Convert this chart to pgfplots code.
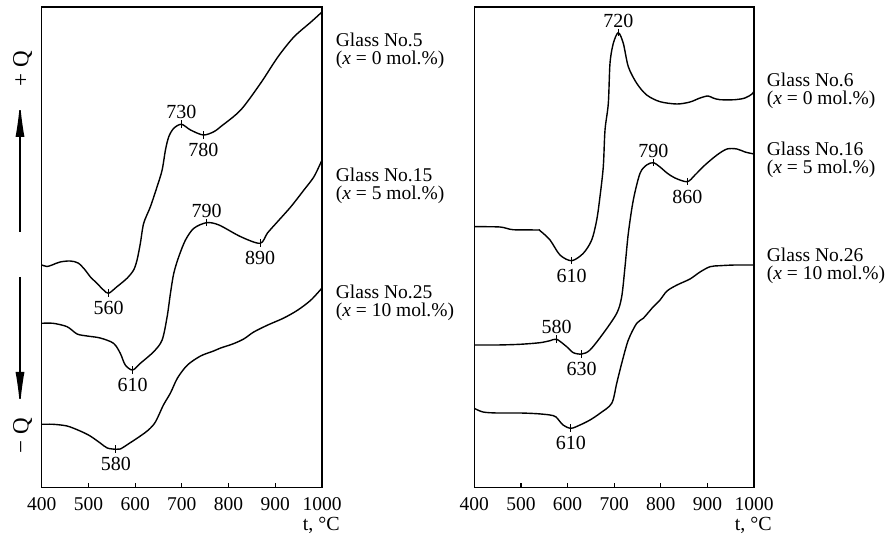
\documentclass[border=0pt]{standalone}
\usepackage{fontspec}
\setmainfont{Liberation Serif}
\usepackage{pgfplots}
\pgfplotsset{compat=1.18}
\usetikzlibrary{arrows.meta}

\pgfplotsset{
  dta/.style={
    scale only axis, width=280.3bp, height=480.7bp,
    xmin=400, xmax=1000, ymin=12.3, ymax=493,
    xtick={400,500,...,1000}, ytick=\empty,
    xtick pos=left, tick align=inside, major tick length=5bp,
    axis line style={line width=1.5bp},
    every tick/.style={line width=1.2bp, black},
    /pgf/number format/assume math mode=true,
    /pgf/number format/1000 sep={},
    ticklabel style={font=\fontsize{19.5bp}{22bp}\selectfont},
    x tick label style={yshift=-3bp},
    clip=false, anchor=south west,
  },
  curve/.style={black, line width=1.4bp, smooth, tension=0.5, mark=none},
  pk/.style={black, only marks, mark=|, mark size=3.8bp, mark options={line width=1bp}},
}
\tikzset{
  lbl below/.style={anchor=north, yshift=-8bp, inner sep=0pt},
  lbl above/.style={anchor=south, yshift=5bp, inner sep=0pt},
}

\begin{document}
\fontsize{20bp}{24bp}\selectfont
\begin{tikzpicture}
\path[use as bounding box] (-41.7bp,-51.3bp) rectangle (845.3bp,487.7bp);

% ---------------- left panel ----------------
\begin{axis}[dta, at={(0bp,0bp)}]
% Glass No.5
\addplot[curve] coordinates {
(400,235) (411.4,233.5) (422.1,235) (439.3,238) (460.8,239) (478,237)
(493,230) (503.8,223.3) (518.2,216.7) (532.3,210) (543.1,206.7)
(561.1,213.3) (582.6,221.7) (596.8,230) (604.1,240) (611.2,256.7)
(618.3,276.7) (632.7,293.3) (647,313.3) (657.8,330) (664.9,350)
(672,363.3) (682.7,371.7) (699.2,375.7) (718.6,370) (745.9,365)
(768.6,368.3) (783,373.3) (826,390) (868.9,417) (905.5,443)
(939.8,463) (976.4,478) (1000,488)};
% Glass No.15
\addplot[curve] coordinates {
(400,176.7) (424.3,176.7) (454.3,173.3) (475.8,166) (497.3,164)
(525.2,162) (553.8,156.7) (568.2,146.7) (578.9,135) (594.6,130)
(611.2,136.7) (639.7,148.3) (657.8,160) (668.5,183.3) (675.6,206.7)
(682.7,226.7) (693.4,243.3) (707.8,260) (725.7,271.7) (752.9,277.3)
(779.4,275) (826,263.3) (867.4,256.7) (883.3,267) (904.8,278.3)
(933.4,293.3) (961.3,310) (982.8,323.3) (1000,340)};
% Glass No.25
\addplot[curve] coordinates {
(400,75.7) (424.3,75.7) (454.3,74) (482.3,69) (503.8,64) (525.2,57)
(540.3,52) (559,50.7) (568.2,51) (585.4,56) (611.2,64) (628.4,70)
(643.4,78) (660.6,95) (675.6,107) (690.7,122) (712.1,135) (740.1,144)
(768,149) (783,152) (808.8,156) (832.4,161) (853.9,168) (884,175)
(918.3,182) (948.4,190) (976.4,200) (1000,212)};
% extrema marks
\addplot[pk] coordinates {(543.1,206.7) (699.2,375.7) (745.9,365)
  (752.9,277.3) (867.4,256.7) (594.6,130) (559,50.7)};
\node[lbl below] at (axis cs:543.1,206.7) {560};
\node[lbl above] at (axis cs:699.2,375.7) {730};
\node[lbl below] at (axis cs:745.9,365) {780};
\node[lbl above] at (axis cs:752.9,277.3) {790};
\node[lbl below] at (axis cs:867.4,256.7) {890};
\node[lbl below] at (axis cs:594.6,130) {610};
\node[lbl below] at (axis cs:559,50.7) {580};
\end{axis}

% ---------------- right panel ----------------
\begin{axis}[dta, at={(432.6bp,0bp)}, width=279.7bp]
% Glass No.6
\addplot[curve] coordinates {
(400,273.3) (455.1,273) (483,270.3) (534.5,270) (540.9,269.3)
(562.4,260) (583.8,245) (608.9,239.3) (633.8,246.7) (651.8,260)
(662.6,280) (669.6,303.3) (676.7,333.3) (680.4,370) (687.5,396.7)
(691.1,436.7) (698.2,456.7) (708.9,467.3) (719.6,456.7) (730.4,433.3)
(748.4,416.7) (769.8,405) (798.4,398.3) (834.8,396) (862.7,398)
(884.2,402) (901.3,404) (912.1,402) (927.1,400.3) (959.3,400.3)
(980.7,402) (995.8,406) (1000,409)};
% Glass No.16
\addplot[curve] coordinates {
(400,155) (448.7,155) (498,155.7) (540.9,157.3) (562.4,159.3)
(576.8,160.7) (598.2,153.3) (612.4,147.3) (630.4,146) (648.2,150)
(676.7,166.7) (705.5,186.7) (716.2,203.3) (723.3,233.3) (730.4,266.7)
(741.1,300) (755.5,326.7) (769.8,335) (784,337.3) (798.4,333)
(813.4,327) (830.5,322) (856.9,318.3) (873.4,325) (894.9,335)
(920.6,345) (942.1,351) (963.5,351) (980.7,348) (1000,346)};
% Glass No.26
\addplot[curve] coordinates {
(400,91.7) (418.7,88) (448.7,87) (498,87) (534.5,86.3) (562.4,85)
(575.3,83) (590.3,75) (607.4,71.7) (626.7,75) (648.2,80) (669.6,86.7)
(694.8,96.7) (705.5,116.7) (716.2,136.7) (730.4,160) (748.4,176.7)
(762.5,181.7) (784,193.3) (798.4,200) (813.4,209) (834.8,215)
(862.7,221) (884.2,228) (905.7,233.3) (927.1,234.3) (959.3,235) (1000,235)};
\addplot[pk] coordinates {(708.9,467.3) (608.9,239.3) (784,337.3)
  (856.9,318.3) (576.8,160.7) (630.4,146) (607.4,71.7)};
\node[lbl above] at (axis cs:708.9,467.3) {720};
\node[lbl below] at (axis cs:608.9,239.3) {610};
\node[lbl above] at (axis cs:784,337.3) {790};
\node[lbl below] at (axis cs:856.9,318.3) {860};
\node[lbl above] at (axis cs:576.8,160.7) {580};
\node[lbl below] at (axis cs:630.4,146) {630};
\node[lbl below] at (axis cs:607.4,71.7) {610};
\end{axis}

% curve names (baselines, in bp above the axes' bottom line)
\begin{scope}[every node/.style={anchor=base west, inner sep=0pt, font=\fontsize{19.5bp}{22bp}\selectfont}]
\node at (294bp,441.2bp) {Glass No.5};
\node at (294bp,423.2bp) {(\textit{x} = 0 mol.\%)};
\node at (294bp,305.7bp) {Glass No.15};
\node at (294bp,287.7bp) {(\textit{x} = 5 mol.\%)};
\node at (294bp,188.7bp) {Glass No.25};
\node at (294bp,170.7bp) {(\textit{x} = 10 mol.\%)};
\node at (725bp,400.7bp) {Glass No.6};
\node at (725bp,382.7bp) {(\textit{x} = 0 mol.\%)};
\node at (725bp,331.7bp) {Glass No.16};
\node at (725bp,313.7bp) {(\textit{x} = 5 mol.\%)};
\node at (725bp,226.2bp) {Glass No.26};
\node at (725bp,208.2bp) {(\textit{x} = 10 mol.\%)};
\end{scope}

% axis titles
\node[anchor=base east, inner sep=0pt] at (298.3bp,-42.3bp) {t, °C};
\node[anchor=base east, inner sep=0pt] at (730.3bp,-42.3bp) {t, °C};

% heat-flow arrows
\draw[line width=1.4bp, -{Latex[length=35bp,width=9bp]}] (-21.7bp,255.7bp) -- (-21.7bp,385.7bp);
\draw[line width=1.4bp, -{Latex[length=35bp,width=9bp]}] (-21.7bp,210.7bp) -- (-21.7bp,80.7bp);
\node[rotate=90, inner sep=0pt, font=\fontsize{23bp}{26bp}\selectfont] at (-19.2bp,419.2bp) {+ Q};
\node[rotate=90, inner sep=0pt, font=\fontsize{23bp}{26bp}\selectfont] at (-19.2bp,51.7bp) {− Q};
\end{tikzpicture}
\end{document}
